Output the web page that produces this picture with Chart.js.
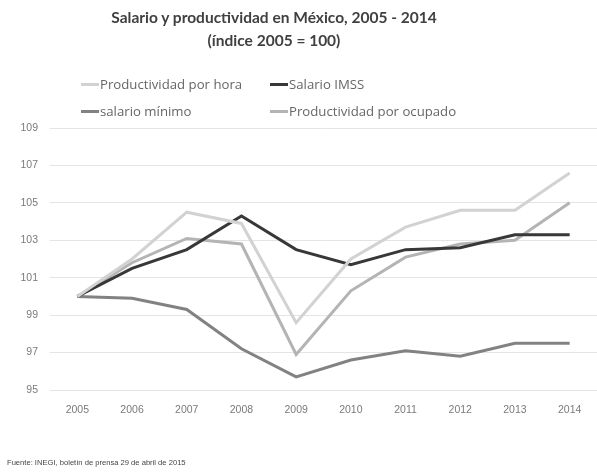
<!DOCTYPE html>
<html>
<head>
<meta charset="utf-8">
<script src="https://cdn.jsdelivr.net/npm/chart.js@4"></script>
<style>
  html, body { margin: 0; padding: 0; background: #fff; }
  #wrap { position: relative; width: 597px; height: 472px; overflow: hidden; }
  #chart { position: absolute; left: 0; top: 0; }
  #title { position: absolute; left: 0; width: 548px; top: 6px; text-align: center;
           font: bold 15.5px/23px Lato, sans-serif; color: #404040; }
  .leg { position: absolute; font: 13.2px "Open Sans", sans-serif; color: #666; white-space: nowrap; }
  .leg i { display: inline-block; width: 18px; height: 3px; vertical-align: middle; margin-right: 1px; position: relative; top: -1px; }
  #source { position: absolute; left: 7px; top: 458px; font: 7.6px "Liberation Sans", sans-serif; color: #444; }
</style>
</head>
<body>
<div id="wrap">
  <canvas id="chart" width="597" height="472"></canvas>
  <div id="title">Salario y productividad en México, 2005 - 2014<br>(índice 2005 = 100)</div>
  <div id="legend"></div>
  <div id="source">Fuente: INEGI, boletín de prensa 29 de abril de 2015</div>
</div>
<script>
// ----------- data ------------
const years = ["2005", "2006", "2007", "2008", "2009", "2010", "2011", "2012", "2013", "2014"];
const prodHora     = [100, 102.0, 104.5, 103.9, 98.6, 102.0, 103.7, 104.6, 104.6, 106.6];
const salarioImss  = [100, 101.5, 102.5, 104.3, 102.5, 101.7, 102.5, 102.6, 103.3, 103.3];
const salarioMin   = [100, 99.9, 99.3, 97.2, 95.7, 96.6, 97.1, 96.8, 97.5, 97.5];
const prodOcupado  = [100, 101.8, 103.1, 102.8, 96.9, 100.3, 102.1, 102.8, 103.0, 105.0];
const yTicks = [95, 97, 99, 101, 103, 105, 107, 109];

const series = [
  { label: "Productividad por hora", data: prodHora, color: "#d2d2d2" },
  { label: "Salario IMSS", data: salarioImss, color: "#383838" },
  { label: "salario mínimo", data: salarioMin, color: "#828282" },
  { label: "Productividad por ocupado", data: prodOcupado, color: "#b4b4b4" },
];

// ----------- legend (2 x 2 grid) ------------
const legendPos = [[81, 75], [270, 75], [81, 102], [270, 102]];
document.getElementById("legend").innerHTML = series
  .map((s, i) =>
    `<div class="leg" style="left:${legendPos[i][0]}px;top:${legendPos[i][1]}px"><i style="background:${s.color}"></i>${s.label}</div>`)
  .join("");

// ----------- chart ------------
new Chart(document.getElementById("chart"), {
  type: "line",
  data: {
    labels: years,
    datasets: series.map((s) => ({
      label: s.label,
      data: s.data,
      borderColor: s.color,
      backgroundColor: s.color,
      borderWidth: 3,
      pointRadius: 0,
      tension: 0,
    })),
  },
  options: {
    responsive: false,
    animation: false,
    layout: { padding: { left: 0, right: 0, top: 128, bottom: 52 } },
    scales: {
      x: {
        offset: true,
        grid: { display: false },
        border: { display: false },
        ticks: { color: "#7a7a7a", font: { family: "Liberation Sans", size: 10.5 }, padding: 6, maxRotation: 0 },
        afterFit: (scale) => { scale.height = 30; },
      },
      y: {
        min: 95,
        max: 109,
        afterBuildTicks: (scale) => { scale.ticks = yTicks.map((v) => ({ value: v })); },
        grid: { color: "#e4e4e4", lineWidth: 1, drawTicks: false },
        border: { display: false },
        ticks: { color: "#7a7a7a", font: { family: "Liberation Sans", size: 10.5 }, padding: 12 },
        afterFit: (scale) => { scale.width = 50; },
      },
    },
    plugins: {
      legend: { display: false },
      tooltip: { enabled: false },
    },
  },
});
</script>
</body>
</html>
